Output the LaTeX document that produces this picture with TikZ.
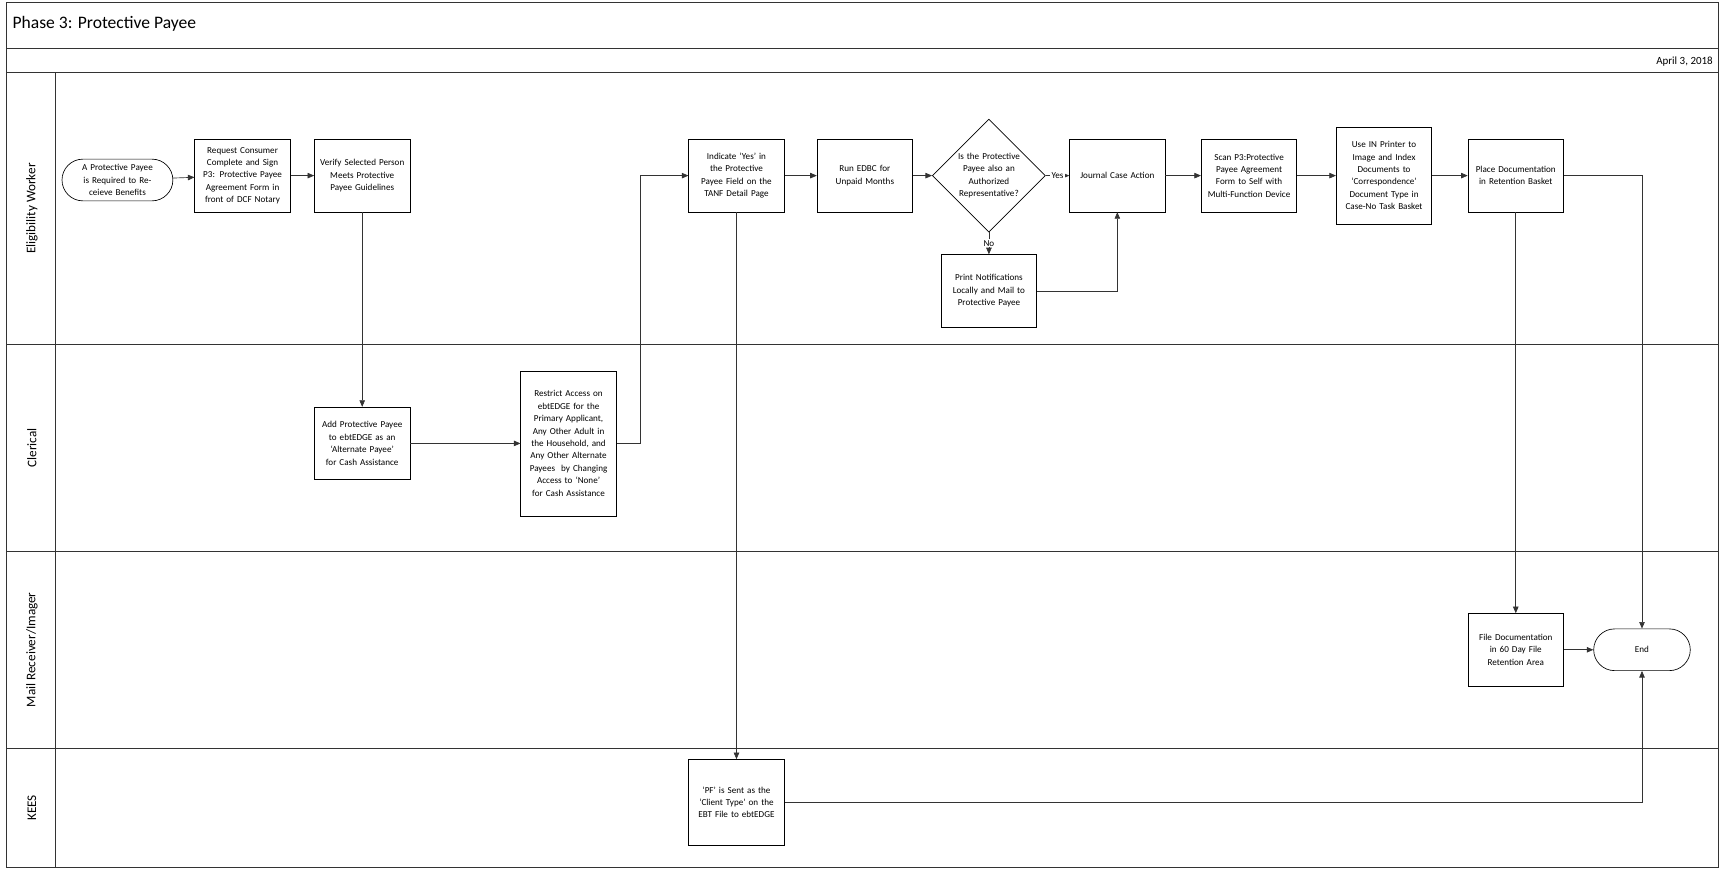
\documentclass[tikz,border=0pt]{standalone}
\usepackage{fontspec}
\setmainfont{Carlito}
\usetikzlibrary{shapes.geometric, arrows.meta, calc, positioning}
\tikzstyle{task} = [rectangle, draw=black, line width=0.6pt, minimum width=87pt, minimum height=66pt, text width=80pt, align=center, inner sep=1pt, font=\fontsize{8.3}{11.3}\selectfont]
\tikzstyle{term} = [rectangle, rounded corners=19pt, draw=black, line width=0.6pt, minimum width=101pt, minimum height=38pt, text width=92pt, align=center, inner sep=1pt, font=\fontsize{8.3}{11.3}\selectfont]
\tikzstyle{decision} = [diamond, draw=black, line width=0.6pt, minimum width=88pt, minimum height=88pt, text width=62pt, align=center, inner sep=0pt, font=\fontsize{8.3}{11.3}\selectfont]
\tikzstyle{arrow} = [line width=0.6pt, draw=black!80, -{Triangle[length=6pt,width=5pt]}]
\tikzstyle{lane} = [rotate=90, font=\fontsize{12}{14}\selectfont]
\tikzstyle{frame} = [line width=0.6pt, draw=black!80]

\begin{document}
\begin{tikzpicture}[x=1pt, y=-1pt]
		\useasboundingbox (0,0) rectangle (1568,792);
		% pool frame
		\draw[frame] (6,2) rectangle (1566,790);
		\draw[frame] (6,44) -- (1566,44);
		\draw[frame] (6,66) -- (1566,66);
		\draw[frame] (50,66) -- (50,790);
		\foreach \y in {314,502,682} \draw[frame] (6,\y) -- (1566,\y);
		\node (Title) [anchor=west, font=\fontsize{16}{18}\selectfont] at (8,22) {Phase 3: Protective Payee};
		\node (Date) [anchor=east, font=\fontsize{10}{12}\selectfont] at (1564,56) {April 3, 2018};
		\node (LaneEW) [lane] at (29,190) {Eligibility Worker};
		\node (LaneCl) [lane] at (29,408) {Clerical};
		\node (LaneMR) [lane] at (29,592) {Mail Receiver/Imager};
		\node (LaneKE) [lane] at (29,736) {KEES};
		
		% nodes
		\node (Start) [term] at (107,164) {A Protective Payee is Required to Receieve Benefits};
		\node (Request) [task] at (221,160) {Request Consumer Complete and Sign P3: Protective Payee Agreement Form in front of DCF Notary};
		\node (Verify) [task] at (330,160) {Verify Selected Person Meets Protective Payee Guidelines};
		\node (AddPayee) [task] at (330,404) {Add Protective Payee to ebtEDGE as an `Alternate Payee' for Cash Assistance};
		\node (Restrict) [task, minimum height=132pt] at (518,404) {Restrict Access on ebtEDGE for the Primary Applicant, Any Other Adult in the Household, and Any Other Alternate Payees~ by Changing Access to `None' for Cash Assistance};
		\node (Indicate) [task] at (671,160) {Indicate `Yes' in the Protective Payee Field on the TANF Detail Page};
		\node (RunEDBC) [task] at (788,160) {Run EDBC for Unpaid Months};
		\node (AuthRep) [decision] at (901,160) {Is the Protective Payee also an Authorized Representative?};
		\node (Print) [task] at (901,265) {Print Notifications Locally and Mail to Protective Payee};
		\node (Journal) [task] at (1018,160) {Journal Case Action};
		\node (Scan) [task] at (1138,160) {Scan P3:Protective Payee Agreement Form to Self with Multi-Function Device};
		\node (UsePrinter) [task, minimum height=88pt] at (1261,160) {Use IN Printer to Image and Index Documents to `Correspondence' Document Type in Case-No Task Basket};
		\node (Place) [task] at (1381,160) {Place Documentation in Retention Basket};
		\node (FileDoc) [task] at (1381,592) {File Documentation in 60 Day File Retention Area};
		\node (End) [term, minimum width=88pt, text width=80pt] at (1496,592) {End};
		\node (SentPF) [task, minimum height=78pt] at (671,731) {`PF' is Sent as the `Client Type' on the EBT File to ebtEDGE};
		
		% connectors
		\draw [arrow] (Start) -- (Request);
		\draw [arrow] (Request) -- (Verify);
		\draw [arrow] (Verify) -- (AddPayee);
		\draw [arrow] (AddPayee) -- (Restrict);
		\draw [arrow] (Restrict.east) -- ++(22,0) |- (Indicate.west);
		\draw [arrow] (Indicate) -- (RunEDBC);
		\draw [arrow] (RunEDBC) -- (AuthRep);
		\draw [arrow] (AuthRep) -- node[fill=white, inner sep=1pt, font=\fontsize{8.3}{10}\selectfont]{Yes} (Journal);
		\draw [arrow] (AuthRep) -- node[fill=white, inner sep=1pt, font=\fontsize{8.3}{10}\selectfont]{No} (Print);
		\draw [arrow] (Print.east) -| (Journal.south);
		\draw [arrow] (Journal) -- (Scan);
		\draw [arrow] (Scan) -- (UsePrinter);
		\draw [arrow] (UsePrinter) -- (Place);
		\draw [arrow] (Place.east) -| (End.north);
		\draw [arrow] (Place) -- (FileDoc);
		\draw [arrow] (FileDoc) -- (End);
		\draw [arrow] (Indicate) -- (SentPF);
		\draw [arrow] (SentPF.east) -| (End.south);
		\end{tikzpicture}
\end{document}
